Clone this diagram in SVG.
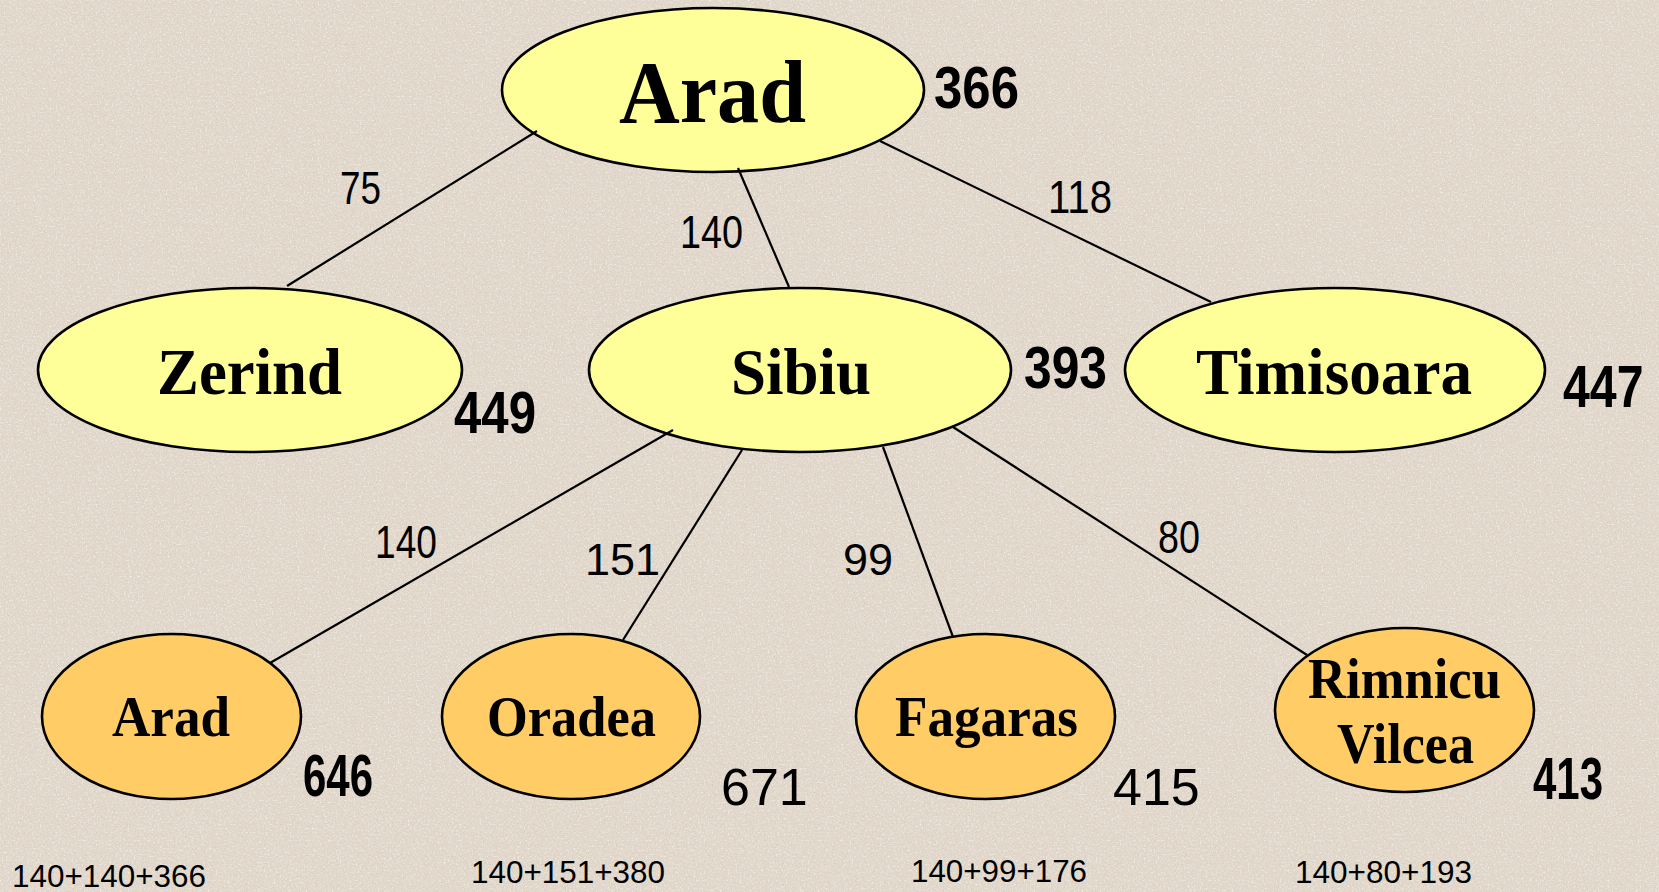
<svg xmlns="http://www.w3.org/2000/svg" width="1659" height="892" viewBox="0 0 1659 892">
  <defs>
    <filter id="grain-dark" x="0" y="0" width="100%" height="100%">
      <feTurbulence type="fractalNoise" baseFrequency="0.9" numOctaves="2" seed="7" result="n"/>
      <feColorMatrix in="n" type="matrix" values="0 0 0 0 0.62  0 0 0 0 0.54  0 0 0 0 0.46  3.2 0 0 0 -1.65"/>
    </filter>
    <filter id="grain-light" x="0" y="0" width="100%" height="100%">
      <feTurbulence type="fractalNoise" baseFrequency="0.5" numOctaves="3" seed="23" result="n"/>
      <feColorMatrix in="n" type="matrix" values="0 0 0 0 0.96  0 0 0 0 0.94  0 0 0 0 0.90  0 2.6 0 0 -1.3"/>
    </filter>
    <style>
      .bg { fill: #E2D8CC; }
      .city { stroke: #000; stroke-width: 2.6; }
      .open { fill: #FFFF99; }
      .leaf { fill: #FFCC66; }
      .name { font-family: "Liberation Serif", "Times New Roman", serif; font-weight: bold; fill: #000; }
      .h { font-family: "Liberation Sans", Arial, sans-serif; font-weight: bold; fill: #000; font-size: 60px; }
      .hr { font-family: "Liberation Sans", Arial, sans-serif; fill: #000; font-size: 52px; }
      .cost { font-family: "Liberation Sans", Arial, sans-serif; fill: #000; font-size: 46px; }
      .costr { font-family: "Liberation Sans", Arial, sans-serif; fill: #000; font-size: 45px; }
      .sum { font-family: "Liberation Sans", Arial, sans-serif; fill: #000; font-size: 31px; }
      .edge { stroke: #000; stroke-width: 2.2; fill: none; }
    </style>
  </defs>

  <!-- stone-textured backdrop -->
  <rect class="bg" x="0" y="0" width="1659" height="892"/>
  <rect x="0" y="0" width="1659" height="892" filter="url(#grain-light)" opacity="0.7"/>
  <rect x="0" y="0" width="1659" height="892" filter="url(#grain-dark)" opacity="0.6"/>

  <!-- search tree nodes -->
  <g id="node-arad-root">
    <ellipse class="city open" cx="713" cy="90" rx="211" ry="82"/>
    <text class="name" x="619" y="122" font-size="88" textLength="187" lengthAdjust="spacingAndGlyphs">Arad</text>
    <text class="h" x="934" y="108" font-size="58" textLength="85" lengthAdjust="spacingAndGlyphs">366</text>
  </g>

  <g id="node-zerind">
    <ellipse class="city open" cx="250" cy="370" rx="212" ry="82"/>
    <text class="name" x="157" y="394" font-size="66" textLength="185" lengthAdjust="spacingAndGlyphs">Zerind</text>
    <text class="h" x="454" y="433" textLength="82" lengthAdjust="spacingAndGlyphs">449</text>
  </g>

  <g id="node-sibiu">
    <ellipse class="city open" cx="800" cy="370" rx="211" ry="82"/>
    <text class="name" x="731" y="394" font-size="66" textLength="140" lengthAdjust="spacingAndGlyphs">Sibiu</text>
    <text class="h" x="1024" y="388" textLength="83" lengthAdjust="spacingAndGlyphs">393</text>
  </g>

  <g id="node-timisoara">
    <ellipse class="city open" cx="1335" cy="370" rx="210" ry="82"/>
    <text class="name" x="1196" y="394" font-size="66" textLength="276" lengthAdjust="spacingAndGlyphs">Timisoara</text>
    <text class="h" transform="translate(1563 407) scale(0.805 1)" x="0" y="0" font-size="62">447</text>
  </g>

  <g id="node-arad-leaf">
    <ellipse class="city leaf" cx="171.5" cy="716.5" rx="129.5" ry="82.5"/>
    <text class="name" x="112" y="736" font-size="56" textLength="118" lengthAdjust="spacingAndGlyphs">Arad</text>
    <text class="h" x="303" y="796" font-size="52" textLength="70" lengthAdjust="spacingAndGlyphs">646</text>
    <text class="sum" x="12" y="887" textLength="194" lengthAdjust="spacingAndGlyphs">140+140+366</text>
  </g>

  <g id="node-oradea">
    <ellipse class="city leaf" cx="571" cy="716.5" rx="129" ry="82.5"/>
    <text class="name" x="487" y="736" font-size="56" textLength="169" lengthAdjust="spacingAndGlyphs">Oradea</text>
    <text class="hr" x="721" y="805">671</text>
    <text class="sum" x="471" y="883" textLength="194" lengthAdjust="spacingAndGlyphs">140+151+380</text>
  </g>

  <g id="node-fagaras">
    <ellipse class="city leaf" cx="985.5" cy="716.5" rx="129.5" ry="82.5"/>
    <text class="name" x="895" y="736" font-size="56" textLength="183" lengthAdjust="spacingAndGlyphs">Fagaras</text>
    <text class="hr" x="1113" y="805">415</text>
    <text class="sum" x="911" y="882" textLength="176" lengthAdjust="spacingAndGlyphs">140+99+176</text>
  </g>

  <g id="node-rimnicu-vilcea">
    <ellipse class="city leaf" cx="1404.5" cy="710" rx="129.5" ry="82"/>
    <text class="name" x="1308" y="698" font-size="56" textLength="193" lengthAdjust="spacingAndGlyphs">Rimnicu</text>
    <text class="name" x="1337" y="763" font-size="56" textLength="137" lengthAdjust="spacingAndGlyphs">Vilcea</text>
    <text class="h" x="1533" y="799" font-size="52" textLength="70" lengthAdjust="spacingAndGlyphs">413</text>
    <text class="sum" x="1295" y="883" textLength="177" lengthAdjust="spacingAndGlyphs">140+80+193</text>
  </g>

  <!-- tree edges with step costs -->
  <g id="connectors">
    <line class="edge" x1="537" y1="131" x2="287" y2="286"/>
    <line class="edge" x1="738" y1="168" x2="789" y2="287"/>
    <line class="edge" x1="880" y1="141" x2="1211" y2="302"/>
    <line class="edge" x1="673" y1="430" x2="270" y2="663"/>
    <line class="edge" x1="742" y1="450" x2="623" y2="640"/>
    <line class="edge" x1="883" y1="447" x2="953" y2="637"/>
    <line class="edge" x1="953" y1="427" x2="1307" y2="655"/>

    <text class="cost" x="340" y="204" textLength="41" lengthAdjust="spacingAndGlyphs">75</text>
    <text class="cost" x="680" y="248" textLength="63" lengthAdjust="spacingAndGlyphs">140</text>
    <text class="cost" x="1048" y="213" textLength="64" lengthAdjust="spacingAndGlyphs">118</text>
    <text class="cost" x="375" y="558" textLength="62" lengthAdjust="spacingAndGlyphs">140</text>
    <text class="costr" x="585" y="575">151</text>
    <text class="costr" x="843" y="575">99</text>
    <text class="cost" x="1158" y="553" textLength="42" lengthAdjust="spacingAndGlyphs">80</text>
  </g>
</svg>
